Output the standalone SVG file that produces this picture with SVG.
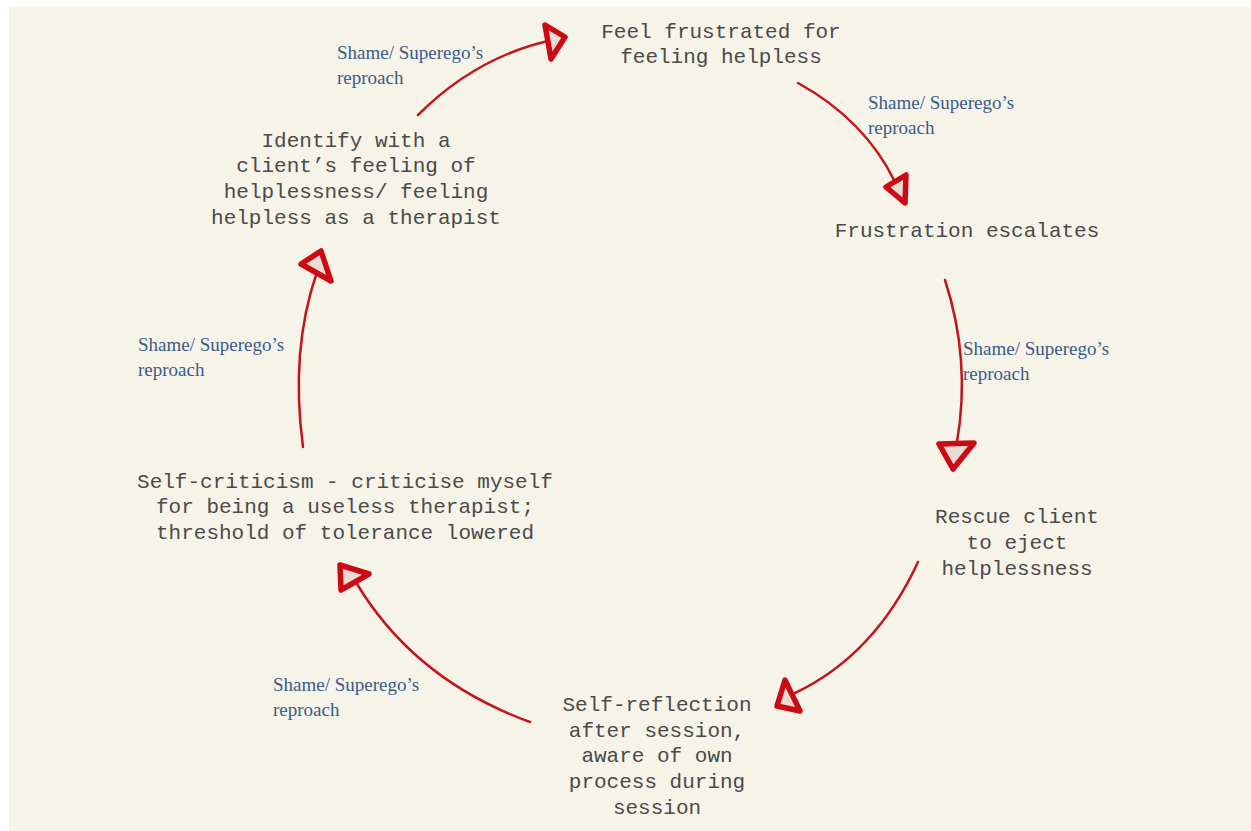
<svg xmlns="http://www.w3.org/2000/svg" width="1251" height="831" viewBox="0 0 1251 831">
<style>
.node{font-family:"Liberation Mono","Courier New",monospace;font-size:21px;fill:#4a4a4a;text-anchor:middle}
.lbl{font-family:"Liberation Serif","Times New Roman",serif;font-size:19px;fill:#3a5c89}
.edge{fill:none;stroke:#c4141c;stroke-width:2.5;stroke-linecap:round}
.head{fill:#e9dcd3;stroke:#cc0a14;stroke-width:5.5;stroke-linejoin:round}
</style>
<rect x="0" y="0" width="1251" height="831" fill="#ffffff"/>
<rect x="9" y="7" width="1242" height="824" fill="#f6f3e8"/>
<g id="connectors">
<path class="edge" d="M418,115 Q475,58 548,41"/>
<polygon class="head" points="545,25 565,37 551,59"/>
<path class="edge" d="M798,83 Q865,120 895,182"/>
<polygon class="head" points="886,187 906,175 905,203"/>
<path class="edge" d="M945,280 Q971,360 957,442"/>
<polygon class="head" points="939,444 974,443 953,469"/>
<path class="edge" d="M918,562 Q875,655 795,693"/>
<polygon class="head" points="785,680 777,706 800,711"/>
<path class="edge" d="M530,722 Q415,680 357,584"/>
<polygon class="head" points="340,565 369,574 341,590"/>
<path class="edge" d="M303,447 Q290,350 317,272"/>
<polygon class="head" points="301,264 321,251 331,281"/>
<text class="lbl" x="337" y="59">Shame/ Superego’s<tspan x="337" y="84">reproach</tspan></text>
<text class="lbl" x="868" y="109">Shame/ Superego’s<tspan x="868" y="134">reproach</tspan></text>
<text class="lbl" x="963" y="355">Shame/ Superego’s<tspan x="963" y="380">reproach</tspan></text>
<text class="lbl" x="138" y="351">Shame/ Superego’s<tspan x="138" y="376">reproach</tspan></text>
<text class="lbl" x="273" y="691">Shame/ Superego’s<tspan x="273" y="716">reproach</tspan></text>
</g>
<g id="node-feel-frustrated">
<text class="node" x="721" y="38">Feel frustrated for<tspan x="721" y="63">feeling helpless</tspan></text>
</g>
<g id="node-frustration-escalates">
<text class="node" x="967" y="237">Frustration escalates</text>
</g>
<g id="node-rescue-client">
<text class="node" x="1017" y="523">Rescue client<tspan x="1017" y="549">to eject</tspan><tspan x="1017" y="575">helplessness</tspan></text>
</g>
<g id="node-self-reflection">
<text class="node" x="657" y="711">Self-reflection<tspan x="657" y="737">after session,</tspan><tspan x="657" y="762">aware of own</tspan><tspan x="657" y="788">process during</tspan><tspan x="657" y="814">session</tspan></text>
</g>
<g id="node-self-criticism">
<text class="node" x="345" y="488">Self-criticism - criticise myself<tspan x="345" y="513">for being a useless therapist;</tspan><tspan x="345" y="539">threshold of tolerance lowered</tspan></text>
</g>
<g id="node-identify">
<text class="node" x="356" y="147">Identify with a<tspan x="356" y="172">client’s feeling of</tspan><tspan x="356" y="198">helplessness/ feeling</tspan><tspan x="356" y="224">helpless as a therapist</tspan></text>
</g>
</svg>
